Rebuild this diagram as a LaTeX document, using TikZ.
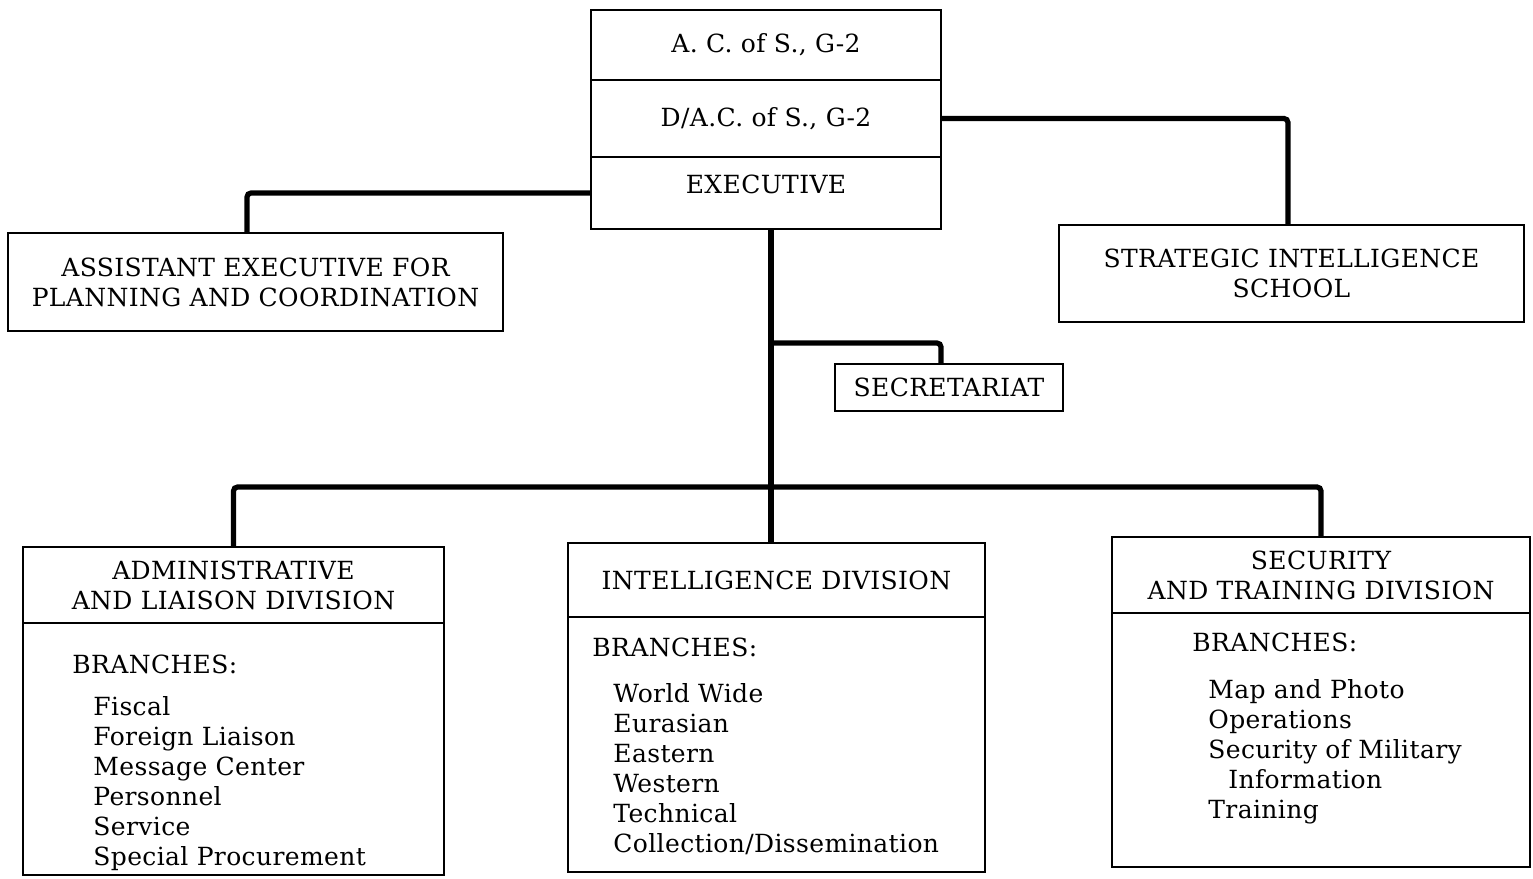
\documentclass[tikz,border=0pt]{standalone}
\usepackage{fontspec}
\setmainfont{DejaVu Serif}[LetterSpace=1.5]
\usetikzlibrary{positioning}
\newcommand{\orgfont}{\fontsize{12.5}{15}\selectfont}

\begin{document}
\begin{tikzpicture}[x=0.5pt, y=-0.5pt,
    box/.style={draw, line width=1pt, outer sep=0pt, inner sep=0pt, align=center, font=\orgfont},
    link/.style={line width=2.6pt, rounded corners=2pt},
    list/.style={anchor=north west, inner sep=0pt, align=left, font=\orgfont}]
    \useasboundingbox (0,0) rectangle (1533,879);
    \node[box, minimum width=175pt, minimum height=35pt] (acos) at (766,45) {A. C. of S., G-2};
    \node[box, minimum width=175pt, minimum height=38.5pt, below=0pt of acos] (dacos) {D/A.C. of S., G-2};
    \node[box, minimum width=175pt, minimum height=36pt, text depth=9pt, below=0pt of dacos] (exec) {EXECUTIVE};
    \node[box, minimum width=247.5pt, minimum height=49pt] (asst) at (255.5,282) {ASSISTANT EXECUTIVE FOR\\PLANNING AND COORDINATION};
    \node[box, minimum width=232.5pt, minimum height=48.5pt] (school) at (1291.5,273.5) {STRATEGIC INTELLIGENCE\\SCHOOL};
    \node[box, minimum width=114pt, minimum height=23.5pt] (secr) at (949,387.5) {SECRETARIAT};
    \node[box, minimum width=210.5pt, minimum height=38pt] (admin) at (233.5,585) {ADMINISTRATIVE\\AND LIAISON DIVISION};
    \node[box, minimum width=210.5pt, minimum height=126pt, below=0pt of admin] (adminbody) {};
    \node[box, minimum width=208.5pt, minimum height=37pt] (intel) at (776.5,580) {INTELLIGENCE DIVISION};
    \node[box, minimum width=208.5pt, minimum height=127.5pt, below=0pt of intel] (intelbody) {};
    \node[box, minimum width=209pt, minimum height=38pt] (secur) at (1321,575) {SECURITY\\AND TRAINING DIVISION};
    \node[box, minimum width=209pt, minimum height=127pt, below=0pt of secur] (securbody) {};
    \node[list, anchor=west] (adminhead) at (72,664) {BRANCHES:};
    \node[list] (adminlist) at (93,696) {Fiscal\\Foreign Liaison\\Message Center\\Personnel\\Service\\Special Procurement};
    \node[list, anchor=west] (intelhead) at (592,647) {BRANCHES:};
    \node[list] (intellist) at (613,683) {World Wide\\Eurasian\\Eastern\\Western\\Technical\\Collection/Dissemination};
    \node[list, anchor=west] (securhead) at (1192,642) {BRANCHES:};
    \node[list] (securlist) at (1208,679) {Map and Photo\\Operations\\Security of Military\\\hspace*{10pt}Information\\Training};
    \coordinate (spine) at (771,487);
    \coordinate (secrjoin) at (771,343);
    \draw[link] (exec.west) -| ([xshift=-4.25pt]asst.north);
    \draw[link] (dacos.east) -| ([xshift=-1.75pt]school.north);
    \draw[link] (exec.south -| spine) -- (intel.north -| spine);
    \draw[link] (secrjoin) -| ([xshift=-4pt]secr.north);
    \draw[link] (admin.north) |- (spine) -| (secur.north);
\end{tikzpicture}
\end{document}
